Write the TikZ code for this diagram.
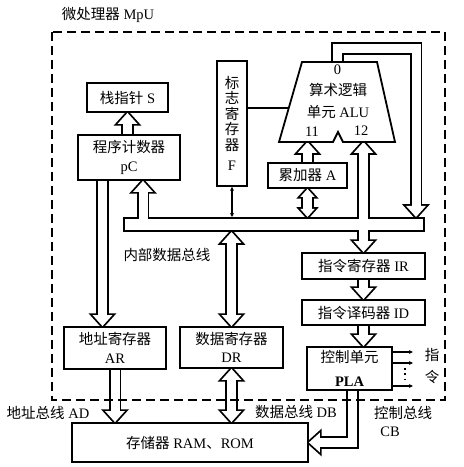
\documentclass[tikz,border=0pt]{standalone}
\usepackage{fontspec}
\setmainfont{Liberation Serif}
\newfontfamily\cjk{Noto Sans CJK SC}
\usetikzlibrary{calc, arrows.meta, backgrounds}

\newcommand\zh[1]{{\cjk #1}}
% hollow head: [length]{tip}{angle}
\newcommand\hd[3][11]{\path[head, shift={#2}, rotate=#3] (0,0) -- (-#1,{0.9*#1}) -- (-#1,{-0.9*#1}) -- cycle;}
% hollow arrow: [head length]{from}{tip}{angle}
\newcommand\harr[4][11]{\draw[chan] #2 -- ($#3!#1pt!#2$); \hd[#1]{#3}{#4}}
% hollow double arrow: [head length]{tip a}{tip b}{angle at a}
\newcommand\darr[4][11]{\draw[chan] ($#2!#1pt!#3$) -- ($#3!#1pt!#2$); \hd[#1]{#2}{#4}\hd[#1]{#3}{#4+180}}

\begin{document}
\begin{tikzpicture}[x=1pt, y=1pt,
  every node/.style={font=\fontsize{14.5}{15.5}\selectfont, inner sep=0pt},
  box/.style={draw, fill=white, line width=1.8pt, align=center},
  thinline/.style={line width=1.5pt},
  tip/.style={-{Stealth[length=4pt,width=4pt]}},
  frame/.style={line width=1.8pt, dash pattern=on 9pt off 5pt}]
\useasboundingbox (0,0) rectangle (464,467);

% registers and units
\node[box, minimum width=81, minimum height=29] (s) at (127.5,369.5) {\zh{栈指针} S};
\node[box, minimum width=102, minimum height=45] (pc) at (129,309.5) {\zh{程序计数器}\\[3pt]pC};
\node[box, minimum width=30, minimum height=125] (f) at (232,343.5) {\zh{标}\\\zh{志}\\\zh{寄}\\\zh{存}\\\zh{器}\\[5pt]F};
\node[box, minimum width=79, minimum height=25] (a) at (307.5,291.5) {\zh{累加器} A};
\node[box, minimum width=102, minimum height=42] (ar) at (115,119) {\zh{地址寄存器}\\[3pt]AR};
\node[box, minimum width=103, minimum height=41] (dr) at (231.5,119.5) {\zh{数据寄存器}\\[3pt]DR};
\node[box, minimum width=236, minimum height=39] (mem) at (190,24.5) {\zh{存储器} RAM\zh{、}ROM};
\node[box, minimum width=123, minimum height=26] (ir) at (363.5,201) {\zh{指令寄存器} IR};
\node[box, minimum width=123, minimum height=25] (id) at (363.5,154.5) {\zh{指令译码器} ID};
\node[box, minimum width=85, minimum height=43] (pla) at (349.5,98.5) {\zh{控制单元}\\[8pt]\textbf{PLA}};

% ALU
\draw[line width=1.8pt, fill=white] (302,405) -- (377,405) -- (395,325) -- (343,325) -- (338,335) -- (333,325) -- (279,325) -- cycle;
\node (alu-0) at (337.5,397) {0};
\node (alu-t) at (338,377) {\zh{算术逻辑}};
\node (alu-u) at (338,355) {\zh{单元} ALU};
\node (alu-11) at (312,335) {11};
\node (alu-12) at (361,336) {12};
\coordinate (alu-out) at (337.5,405);
\coordinate (alu-in1) at (307.5,325);
\coordinate (alu-in2) at (363.5,325);
\coordinate (alu-f) at (288.8,359);

% internal bus
\coordinate (bus-l) at (130.5,242.5);
\coordinate (bus-r) at (417.5,242.5);
\coordinate (bt) at (0,250);
\coordinate (bb) at (0,235);
\coordinate (bc) at (0,242.5);
\coordinate (b-pc) at (143,242.5);
\coordinate (fb-in) at (416,250);

\begin{scope}[on background layer]
\foreach \pass in {1,2}{
  \ifnum\pass=1
    \tikzset{chan/.style={line width=12.6pt}, head/.style={fill, draw, line width=3.6pt}, bus/.style={line width=15pt, line cap=rect}}
  \else
    \tikzset{chan/.style={line width=9pt, white}, head/.style={fill=white}, bus/.style={line width=11.4pt, line cap=rect, white}}
  \fi
  \draw[bus] (bus-l) -- (bus-r);
  \harr{(s.south |- pc.north)}{(s.south)}{90}
  \harr{([xshift=-26.5]pc.south)}{([xshift=-12.5]ar.north)}{-90}
  \harr{(b-pc)}{(b-pc |- pc.south)}{90}
  \harr{(ar.south)}{(ar.south |- mem.north)}{-90}
  \darr{(dr.north |- bb)}{(dr.north)}{90}
  \darr{(dr.south)}{(dr.south |- mem.north)}{90}
  \darr[8]{(a.south)}{(a.south |- bt)}{90}
  \harr{(a.north)}{(alu-in1)}{90}
  \harr{(alu-in2 |- bc)}{(alu-in2)}{90}
  \harr{(ir.north |- bc)}{(ir.north)}{-90}
  \harr{(ir.south)}{(id.north)}{-90}
  \harr{(id.south)}{(id.south |- pla.north)}{-90}
  % ALU result back to the bus
  \draw[chan] (alu-out) -- ++(0,13.5) -| ($(fb-in)+(0,11)$);
  \hd{(fb-in)}{-90}
  % control unit to memory
  \draw[chan] ([xshift=3]pla.south) |- ($(mem.east)+(11,0)$);
  \hd{(mem.east)}{180}
}
\end{scope}

% flag register links
\draw[thinline] (f.east |- alu-f) -- (alu-f);
\draw[thinline, {Stealth[length=4pt,width=4pt]}-{Stealth[length=4pt,width=4pt]}] (f.south) -- (f.south |- bt);

% control outputs
\draw[thinline, tip] ([yshift=16.5]pla.east) -- ++(20,0);
\draw[thinline, tip] ([yshift=5.5]pla.east) -- ++(20,0);
\draw[thinline, tip] ([yshift=-17.5]pla.east) -- ++(20,0);
\draw[line width=1.8pt, dash pattern=on 1.8pt off 3.5pt] (405,99) -- (405,84);

% MpU boundary
\draw[frame] (52,435) rectangle (445,67);

% labels
\node (t-mpu) at (108,452) {\zh{微处理器} MpU};
\node (t-ib) at (167,212) {\zh{内部数据总线}};
\node (t-ad) at (48,54) {\zh{地址总线} AD};
\node (t-db) at (296,55) {\zh{数据总线} DB};
\node (t-cb) at (403,54) {\zh{控制总线}};
\node (t-cb2) at (390,35) {CB};
\node (t-zhi) at (432,112) {\zh{指}};
\node (t-ling) at (432,90) {\zh{令}};
\end{tikzpicture}
\end{document}
